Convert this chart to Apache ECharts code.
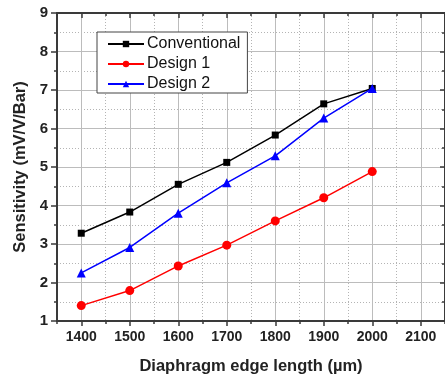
<!DOCTYPE html>
<html>
<head>
<meta charset="utf-8">
<script src="https://cdn.jsdelivr.net/npm/echarts@6/dist/echarts.min.js"></script>
<style>
  html, body { margin: 0; padding: 0; background: #fff; }
  #chart { width: 445px; height: 380px; }
</style>
</head>
<body>
<div id="chart"></div>
<script>
const edgeLengths = [1400, 1500, 1600, 1700, 1800, 1900, 2000];
const conventional = [3.28, 3.83, 4.55, 5.12, 5.83, 6.64, 7.04];
const design1 = [1.40, 1.79, 2.43, 2.97, 3.60, 4.20, 4.88];
const design2 = [2.25, 2.91, 3.80, 4.59, 5.29, 6.27, 7.04];
const xMajorTicks = [1400, 1500, 1600, 1700, 1800, 1900, 2000, 2100];
const xMinorTicks = [1350, 1450, 1550, 1650, 1750, 1850, 1950, 2050, 2150];

const FONT = '"Liberation Sans", Arial, sans-serif';
const AXIS_COLOR = '#3a3a3a';
const GRID_MAJOR = '#bcbcbc';
const GRID_MINOR = '#b4b4b4';

const pair = (values) => values.map((v, i) => [edgeLengths[i], v]);

const hiddenLine = { show: false, onZero: false };

const chart = echarts.init(document.getElementById('chart'));
chart.setOption({
  animation: false,
  backgroundColor: '#fff',
  grid: { left: 57, right: -3, top: 13, bottom: 58, containLabel: false },
  legend: {
    orient: 'vertical',
    left: 97,
    top: 32,
    padding: [4, 7, 1, 10],
    itemWidth: 36,
    itemHeight: 8,
    itemGap: 4,
    backgroundColor: '#fff',
    borderColor: '#444',
    borderWidth: 1,
    borderRadius: 0,
    textStyle: { fontFamily: FONT, fontSize: 16, color: '#111', padding: [0, 0, 0, -2] },
    data: ['Conventional', 'Design 1', 'Design 2'],
  },
  xAxis: [
    {
      type: 'value',
      position: 'bottom',
      min: 1350,
      max: 2150,
      name: 'Diaphragm edge length (\u00b5m)',
      nameLocation: 'middle',
      nameGap: 37,
      nameTextStyle: { fontFamily: FONT, fontSize: 16.5, fontWeight: 'bold', color: '#222' },
      axisLine: { show: true, onZero: false, lineStyle: { color: AXIS_COLOR, width: 2 } },
      axisTick: { show: true, length: 5, customValues: xMajorTicks, lineStyle: { color: AXIS_COLOR, width: 1.5 } },
      axisLabel: {
        customValues: xMajorTicks,
        formatter: (v) => String(v),
        margin: 9,
        fontFamily: FONT,
        fontSize: 14,
        fontWeight: 'bold',
        color: '#222',
      },
      splitLine: { show: true, lineStyle: { color: GRID_MAJOR, width: 1 } },
    },
    {
      type: 'value',
      position: 'bottom',
      min: 1350,
      max: 2150,
      axisLine: hiddenLine,
      axisTick: { show: true, length: 3, customValues: xMinorTicks, lineStyle: { color: AXIS_COLOR, width: 1.5 } },
      axisLabel: { show: false },
      splitLine: { show: true, lineStyle: { color: GRID_MINOR, width: 1, type: [1, 2] } },
    },
    {
      type: 'value',
      position: 'top',
      min: 1350,
      max: 2150,
      axisLine: { show: true, onZero: false, lineStyle: { color: AXIS_COLOR, width: 2 } },
      axisTick: { show: true, inside: true, length: 5, customValues: xMajorTicks, lineStyle: { color: AXIS_COLOR, width: 1.5 } },
      axisLabel: { show: false },
      splitLine: { show: false },
    },
    {
      type: 'value',
      position: 'top',
      min: 1350,
      max: 2150,
      axisLine: hiddenLine,
      axisTick: { show: true, inside: true, length: 3, customValues: xMinorTicks, lineStyle: { color: AXIS_COLOR, width: 1.5 } },
      axisLabel: { show: false },
      splitLine: { show: false },
    },
  ],
  yAxis: [
    {
      type: 'value',
      position: 'left',
      min: 1,
      max: 9,
      interval: 1,
      name: 'Sensitivity (mV/V/Bar)',
      nameLocation: 'middle',
      nameGap: 28,
      nameTextStyle: { fontFamily: FONT, fontSize: 16.5, fontWeight: 'bold', color: '#222' },
      axisLine: { show: true, onZero: false, lineStyle: { color: AXIS_COLOR, width: 2 } },
      axisTick: { show: true, length: 6, lineStyle: { color: AXIS_COLOR, width: 1.5 } },
      minorTick: { show: true, splitNumber: 2, length: 3, lineStyle: { color: AXIS_COLOR, width: 1.5 } },
      axisLabel: { margin: 9, fontFamily: FONT, fontSize: 15, fontWeight: 'bold', color: '#222' },
      splitLine: { show: true, lineStyle: { color: GRID_MAJOR, width: 1 } },
      minorSplitLine: { show: true, lineStyle: { color: GRID_MINOR, width: 1, type: [1, 2] } },
    },
    {
      type: 'value',
      position: 'right',
      min: 1,
      max: 9,
      interval: 1,
      axisLine: { show: true, onZero: false, lineStyle: { color: AXIS_COLOR, width: 2 } },
      axisTick: { show: true, inside: true, length: 5, lineStyle: { color: AXIS_COLOR, width: 1.5 } },
      minorTick: { show: true, splitNumber: 2, length: 3, lineStyle: { color: AXIS_COLOR, width: 1.5 } },
      axisLabel: { show: false },
      splitLine: { show: false },
    },
  ],
  series: [
    {
      name: 'Conventional',
      type: 'line',
      data: pair(conventional),
      symbol: 'rect',
      symbolSize: 7,
      color: '#000',
      lineStyle: { color: '#000', width: 1.5 },
      itemStyle: { color: '#000' },
      z: 4,
    },
    {
      name: 'Design 1',
      type: 'line',
      data: pair(design1),
      symbol: 'circle',
      symbolSize: 9,
      color: '#ff0000',
      lineStyle: { color: '#ff0000', width: 1.5 },
      itemStyle: { color: '#ff0000' },
      z: 3,
    },
    {
      name: 'Design 2',
      type: 'line',
      data: pair(design2),
      symbol: 'triangle',
      symbolSize: 9,
      color: '#0000ff',
      lineStyle: { color: '#0000ff', width: 1.5 },
      itemStyle: { color: '#0000ff' },
      z: 5,
    },
  ],
});
</script>
</body>
</html>
